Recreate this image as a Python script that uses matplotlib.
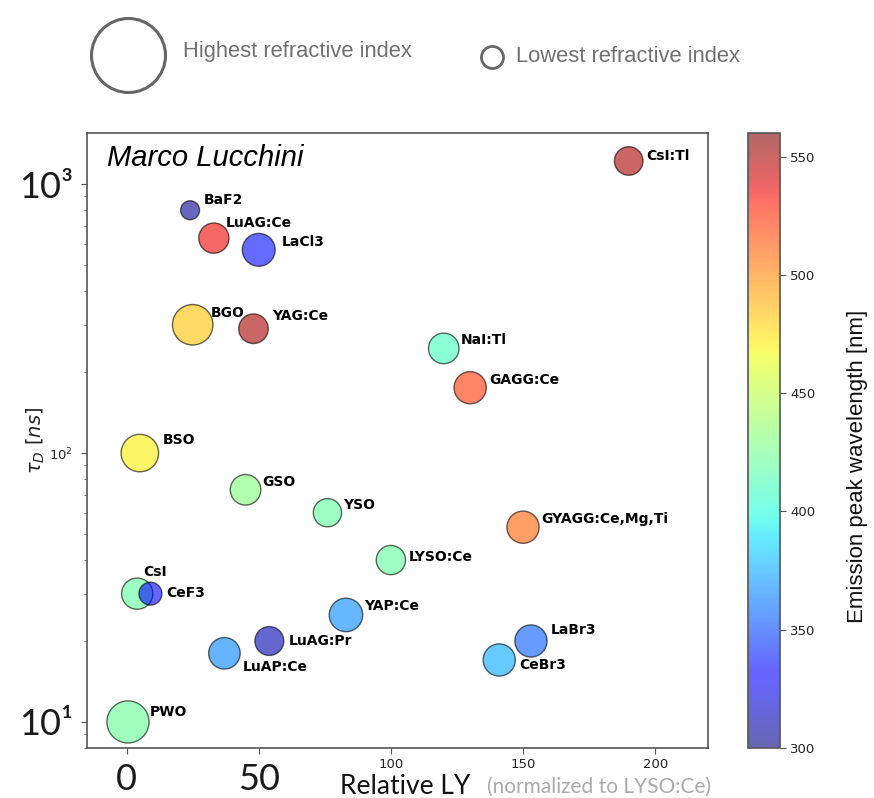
import numpy as np
import matplotlib
matplotlib.use("Agg")
import matplotlib.pyplot as plt
from matplotlib.lines import Line2D
from matplotlib.colors import Normalize

# Scintillating crystals: relative light yield, decay time, emission peak, refractive index
crystals = ["CsI:Tl", "BaF2", "LuAG:Ce", "LaCl3", "BGO", "YAG:Ce", "NaI:Tl", "GAGG:Ce",
            "BSO", "GSO", "YSO", "GYAGG:Ce,Mg,Ti", "LYSO:Ce", "CsI", "CeF3", "YAP:Ce",
            "LaBr3", "CeBr3", "LuAG:Pr", "LuAP:Ce", "PWO"]
rel_ly = [190, 24, 33, 50, 25, 48, 120, 130,
          5, 45, 76, 150, 100, 4, 9, 83,
          153, 141, 54, 37, 0.5]
decay_ns = [1220, 800, 630, 570, 300, 290, 245, 175,
            100, 73, 60, 53, 40, 30, 30, 25,
            20, 17, 20, 18, 10]
emission_nm = [550, 305, 535, 335, 482, 550, 410, 522,
               470, 430, 420, 510, 420, 420, 330, 368,
               355, 375, 312, 365, 422]
refr_index = [1.79, 1.50, 1.84, 1.92, 2.15, 1.82, 1.85, 1.90,
              2.06, 1.85, 1.78, 1.90, 1.81, 1.87, 1.62, 1.94,
              1.90, 1.90, 1.80, 1.88, 2.20]

# label offsets (pixels) from each marker centre
label_offsets = {
    "CsI:Tl": (18, 5), "BaF2": (14, 10), "LuAG:Ce": (12, 15), "LaCl3": (23, 8),
    "BGO": (18, 12), "YAG:Ce": (19, 13), "NaI:Tl": (17, 8), "GAGG:Ce": (19, 8),
    "BSO": (23, 13), "GSO": (17, 8), "YSO": (16, 8), "GYAGG:Ce,Mg,Ti": (18, 8),
    "LYSO:Ce": (18, 3), "CsI": (6, 22), "CeF3": (16, 1), "YAP:Ce": (18, 9),
    "LaBr3": (20, 11), "CeBr3": (20, -5), "LuAG:Pr": (19, 0), "LuAP:Ce": (18, -14),
    "PWO": (22, 10),
}

W, H, DPI = 874, 798, 100
fig = plt.figure(figsize=(W / DPI, H / DPI), dpi=DPI)

ax = fig.add_axes([87 / W, 1 - 748 / H, (708 - 87) / W, (748 - 133) / H])
cax = fig.add_axes([748 / W, 1 - 748 / H, 32 / W, (748 - 133) / H])

# marker radius (px) grows with refractive index
n = np.array(refr_index)
radius_px = 9.5 + (n - 1.5) * 16.5
size_pt2 = (2 * radius_px * 72 / DPI) ** 2

norm = Normalize(vmin=300, vmax=560)
sc = ax.scatter(rel_ly, decay_ns, s=size_pt2, c=emission_nm, cmap="jet", norm=norm,
                alpha=0.6, edgecolors="black", linewidths=1.0, zorder=3)

for name, x, y in zip(crystals, rel_ly, decay_ns):
    dx, dy = label_offsets[name]
    ax.annotate(name, (x, y), xytext=(dx, dy), textcoords="offset pixels",
                ha="left", va="center", fontsize=10, fontweight="bold",
                family="DejaVu Sans", zorder=4)

ax.set_yscale("log")
ax.set_xlim(-15, 220)
ax.set_ylim(8, 1550)

for sp in ax.spines.values():
    sp.set_color("#555555")
    sp.set_linewidth(1.2)

big_font = dict(family="Lato", fontweight="normal", fontsize=26, color="#1a1a1a")

ax.set_xticks([0, 50, 100, 150, 200], ["0", "50", "100", "150", "200"])
ax.tick_params(axis="x", labelsize=9.5, labelcolor="#222222", length=4, color="#555555")
for i, lab in enumerate(ax.get_xticklabels()):
    if i < 2:
        lab.set(**big_font)
for i, tk in enumerate(ax.xaxis.get_major_ticks()):
    if i < 2:
        tk.set_pad(7)

ax.set_yticks([10, 100, 1000], ["10¹", r"$10^{2}$", "10³"])
ax.tick_params(axis="y", which="major", labelsize=9.5, labelcolor="#222222",
               length=4, color="#555555", pad=6)
ax.tick_params(axis="y", which="minor", length=2.5, color="#555555")
for i, lab in enumerate(ax.get_yticklabels()):
    if i != 1:
        lab.set(**big_font)

ax.set_ylabel(r"$\tau_D\ [ns]$", fontsize=14, color="#222222")
ax.yaxis.set_label_coords(-0.064, 0.5)

ax.text(0.033, 0.96, "Marco Lucchini", transform=ax.transAxes, ha="left", va="center",
        fontsize=21, style="italic", family="Liberation Sans")

# x-axis title in two tones
fig.text(340 / W, 1 - 787 / H, "Relative LY", ha="left", va="center",
         fontsize=19, family="Lato", color="#111111")
fig.text(487 / W, 1 - 787 / H, "(normalized to LYSO:Ce)", ha="left", va="center",
         fontsize=15, family="Lato", color="#aaaaaa")

cb = fig.colorbar(sc, cax=cax)
cb.set_ticks([300, 350, 400, 450, 500, 550])
cb.ax.tick_params(labelsize=9.5, labelcolor="#222222", length=4, color="#555555")
cb.outline.set_edgecolor("#555555")
cb.outline.set_linewidth(1.2)
fig.text(858 / W, 1 - 466 / H, "Emission peak wavelength [nm]", rotation=90,
         ha="center", va="center", fontsize=16, family="Liberation Sans", color="#111111")

# refractive-index size key
fig.add_artist(Line2D([128 / W], [1 - 55 / H], marker="o", markersize=74 * 72 / DPI,
                      markerfacecolor="none", markeredgecolor="#666666",
                      markeredgewidth=2.2, transform=fig.transFigure))
fig.text(183 / W, 1 - 52 / H, "Highest refractive index", ha="left", va="center",
         fontsize=15.8, family="Liberation Sans", color="#707070")
fig.add_artist(Line2D([492 / W], [1 - 57 / H], marker="o", markersize=22 * 72 / DPI,
                      markerfacecolor="none", markeredgecolor="#666666",
                      markeredgewidth=2.0, transform=fig.transFigure))
fig.text(516 / W, 1 - 57 / H, "Lowest refractive index", ha="left", va="center",
         fontsize=15.8, family="Liberation Sans", color="#707070")

fig.savefig("out.png", dpi=DPI)
